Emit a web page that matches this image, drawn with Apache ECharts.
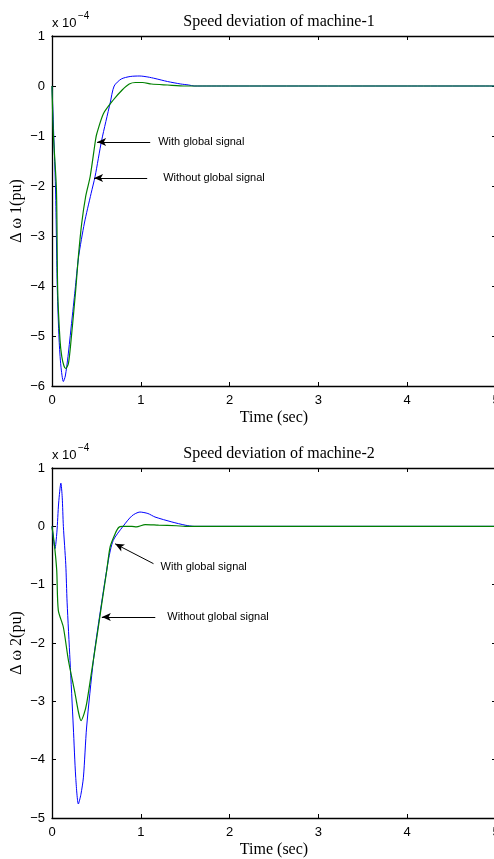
<!DOCTYPE html>
<html>
<head>
<meta charset="utf-8">
<title>Speed deviation of machines</title>
<script src="https://cdn.jsdelivr.net/npm/echarts@6/dist/echarts.min.js"></script>
<style>
  html, body { margin: 0; padding: 0; background: #fff; }
  #chart { width: 494px; height: 859px; }
</style>
</head>
<body>
<div id="chart"></div>
<script>
// values are in units of 1e-4 pu
// machine-1
var t1Without = [0, 0.01, 0.04, 0.06, 0.08, 0.10, 0.128, 0.15, 0.18, 0.22, 0.26, 0.30, 0.365, 0.44, 0.485, 0.56, 0.655, 0.70, 0.78, 0.88, 0.99, 1.08, 1.16, 1.30, 1.45, 1.54, 1.60, 2, 3, 4, 5]
var dw1Without = [0, -0.5, -2.08, -4.08, -5.08, -5.6, -5.91, -5.8, -5.41, -4.75, -4.08, -3.41, -2.74, -2.15, -1.81, -1.08, -0.34, 0, 0.14, 0.19, 0.2, 0.18, 0.15, 0.09, 0.04, 0.02, 0, 0, 0, 0, 0]
var t1With = [0, 0.015, 0.05, 0.064, 0.09, 0.11, 0.135, 0.155, 0.185, 0.215, 0.267, 0.297, 0.335, 0.38, 0.43, 0.49, 0.505, 0.58, 0.69, 0.79, 0.87, 0.94, 1.02, 1.12, 1.30, 1.50, 2, 3, 4, 5]
var dw1With = [0, -0.95, -2.08, -4.08, -5.08, -5.41, -5.6, -5.65, -5.55, -5.08, -4.08, -3.41, -2.74, -2.2, -1.81, -1.08, -0.95, -0.55, -0.28, -0.08, 0.04, 0.07, 0.07, 0.04, 0.02, 0, 0, 0, 0, 0]
// machine-2
var t2Without = [0, 0.034, 0.055, 0.075, 0.10, 0.115, 0.128, 0.155, 0.17, 0.203, 0.24, 0.267, 0.297, 0.325, 0.354, 0.39, 0.466, 0.534, 0.635, 0.69, 0.80, 0.90, 0.99, 1.08, 1.16, 1.35, 1.50, 1.60, 2, 3, 4, 5]
var dw2Without = [0, -0.38, -0.1, 0.4, 0.74, 0.5, 0, -0.65, -1.3, -2.3, -3.44, -4.3, -4.76, -4.6, -4.3, -3.44, -2.3, -1.56, -0.58, -0.24, 0, 0.18, 0.245, 0.22, 0.16, 0.075, 0.02, 0, 0, 0, 0, 0]
var t2With = [0, 0.026, 0.053, 0.071, 0.128, 0.185, 0.26, 0.30, 0.327, 0.36, 0.39, 0.448, 0.505, 0.56, 0.617, 0.655, 0.71, 0.75, 0.79, 0.90, 0.95, 1.05, 1.20, 1.40, 1.50, 2, 3, 4, 5]
var dw2With = [0, -0.3, -0.75, -1.44, -1.73, -2.3, -2.87, -3.2, -3.33, -3.22, -3.04, -2.47, -1.9, -1.33, -0.75, -0.35, -0.13, -0.02, 0, 0, -0.01, 0.03, 0.02, 0.01, 0, 0, 0, 0, 0]

var titles = ['Speed deviation of machine-1', 'Speed deviation of machine-2']
var yNames = ['\u0394 \u03c9 1(pu)', '\u0394 \u03c9 2(pu)']
var yRanges = [[-6, 1], [-5, 1]]
var xRange = [0, 5]

// arrow annotations: [tip, tail, text, gap]
var notes1 = [
  [[0.508, -1.12], [1.106, -1.12], 'With global signal', 8],
  [[0.474, -1.84], [1.072, -1.84], 'Without global signal', 16]
]
var notes2 = [
  [[0.711, -0.30], [1.143, -0.64], 'With global signal', 8],
  [[0.561, -1.556], [1.163, -1.556], 'Without global signal', 12]
]

function zip(xs, ys) {
  return xs.map(function (x, i) { return [x, ys[i]] })
}

var chart = echarts.init(document.getElementById('chart'))
var tickFont = { color: '#000', fontSize: 13, fontFamily: 'Liberation Sans' }
var minus = function (v) { return String(v).replace('-', '\u2212') }

var grids = [
  { left: 52, top: 36, width: 444, height: 350, outerBoundsMode: 'none', containLabel: false },
  { left: 52, top: 468, width: 444, height: 350, outerBoundsMode: 'none', containLabel: false }
]

var xAxes = []
var yAxes = []
var series = []
var graphics = []
var titleList = []

grids.forEach(function (g, i) {
  xAxes.push({
    gridIndex: i, type: 'value', min: xRange[0], max: xRange[1], interval: 1,
    name: 'Time (sec)', nameLocation: 'middle', nameGap: 24, nameMoveOverlap: false,
    nameTextStyle: { color: '#000', fontSize: 16, fontFamily: 'Liberation Serif' },
    axisLine: { show: true, onZero: false, lineStyle: { color: '#000', width: 1.3 } },
    axisTick: { show: true, inside: true, length: 4, lineStyle: { color: '#000' } },
    axisLabel: Object.assign({ margin: 8 }, tickFont),
    splitLine: { show: false }
  })
  xAxes.push({
    gridIndex: i, type: 'value', position: 'top', min: xRange[0], max: xRange[1], interval: 1,
    axisLine: { show: true, onZero: false, lineStyle: { color: '#000', width: 1.3 } },
    axisTick: { show: true, inside: true, length: 4, lineStyle: { color: '#000' } },
    axisLabel: { show: false },
    splitLine: { show: false }
  })
  yAxes.push({
    gridIndex: i, type: 'value', min: yRanges[i][0], max: yRanges[i][1], interval: 1,
    name: yNames[i], nameLocation: 'middle', nameGap: 27, nameMoveOverlap: false,
    nameTextStyle: { color: '#000', fontSize: 16, fontFamily: 'Liberation Serif' },
    axisLine: { show: true, onZero: false, lineStyle: { color: '#000', width: 1.3 } },
    axisTick: { show: true, inside: true, length: 4, lineStyle: { color: '#000' } },
    axisLabel: Object.assign({ margin: 7, formatter: minus }, tickFont),
    splitLine: { show: false }
  })
  yAxes.push({
    gridIndex: i, type: 'value', position: 'right', min: yRanges[i][0], max: yRanges[i][1], interval: 1,
    axisLine: { show: true, onZero: false, lineStyle: { color: '#000', width: 1.3 } },
    axisTick: { show: true, inside: true, length: 4, lineStyle: { color: '#000' } },
    axisLabel: { show: false },
    splitLine: { show: false }
  })

  titleList.push({
    text: titles[i], left: 274, top: g.top - 27, textAlign: 'center',
    textStyle: { color: '#000', fontSize: 16, fontWeight: 'normal', fontFamily: 'Liberation Serif' }
  })
  graphics.push({
    type: 'text', x: 52, y: g.top - 13,
    style: { text: 'x 10', fill: '#000', font: '13px "Liberation Sans"', textVerticalAlign: 'middle' }
  })
  graphics.push({
    type: 'text', x: 78, y: g.top - 20,
    style: { text: '\u22124', fill: '#000', font: '10px "Liberation Sans"', textVerticalAlign: 'middle' }
  })
})

var lines = [
  [t1Without, dw1Without, t1With, dw1With, notes1],
  [t2Without, dw2Without, t2With, dw2With, notes2]
]

lines.forEach(function (l, i) {
  series.push({
    name: 'Without global signal', type: 'line', xAxisIndex: i * 2, yAxisIndex: i * 2,
    data: zip(l[0], l[1]), showSymbol: false, smooth: 0.25,
    lineStyle: { color: '#0000ff', width: 1 }, itemStyle: { color: '#0000ff' }
  })
  series.push({
    name: 'With global signal', type: 'line', xAxisIndex: i * 2, yAxisIndex: i * 2,
    data: zip(l[2], l[3]), showSymbol: false, smooth: 0.25,
    lineStyle: { color: '#008000', width: 1.2 }, itemStyle: { color: '#008000' },
    markLine: {
      silent: true, animation: false,
      symbol: ['arrow', 'none'], symbolSize: [6, 9],
      lineStyle: { color: '#000', width: 1, type: 'solid' },
      data: l[4].map(function (n) {
        return [
          { coord: n[0] },
          {
            coord: n[1],
            label: {
              show: true, position: 'end', formatter: n[2], distance: n[3],
              color: '#000', fontSize: 11, fontFamily: 'Liberation Sans'
            }
          }
        ]
      })
    }
  })
})

chart.setOption({
  animation: false,
  backgroundColor: '#fff',
  title: titleList,
  grid: grids,
  xAxis: xAxes,
  yAxis: yAxes,
  series: series,
  graphic: graphics
})
</script>
</body>
</html>
